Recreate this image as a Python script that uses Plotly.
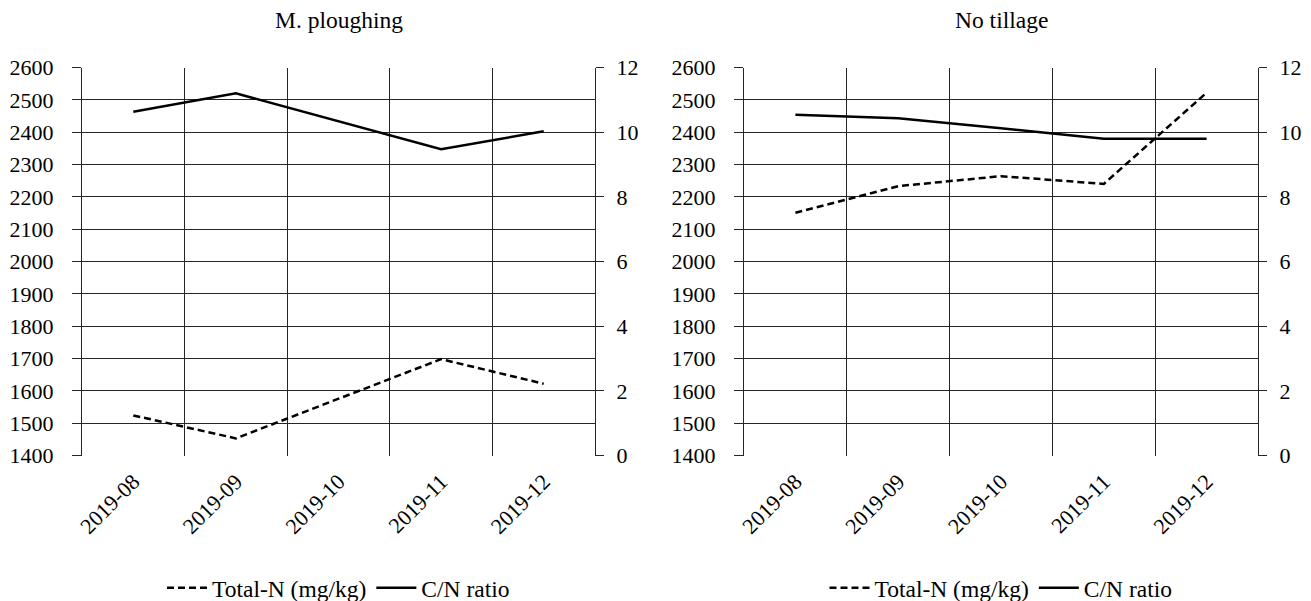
import plotly.graph_objects as go

months = ["2019-08", "2019-09", "2019-10", "2019-11", "2019-12"]

plough_total_n = [1524, 1453, None, 1698, 1622]
plough_cn = [10.63, 11.2, None, 9.47, 10.03]

notill_total_n = [2151, 2233, 2264, 2240, 2522]
notill_cn = [10.54, 10.43, 10.12, 9.8, 9.8]

panel_titles = ["M. ploughing", "No tillage"]

# the page body has an 8px margin: place everything 8px up/left inside the figure
OFF = 8
W, H = 1311, 601
FONT = "Liberation Serif, Times New Roman, serif"
FS_TICK = 22
FS_TEXT = 23.5
GRID = "#262626"

def px_x(p):
    return (p - OFF) / W

def px_y(p):
    return 1 - (p - OFF) / H

fig = go.Figure()

panels = [
    (plough_total_n, plough_cn, "x", "y", "y2", "legend"),
    (notill_total_n, notill_cn, "x2", "y3", "y4", "legend2"),
]
for tn, cn, xa, ya, ya2, lg in panels:
    fig.add_trace(go.Scatter(
        x=months, y=tn, name="Total-N (mg/kg)", mode="lines",
        line=dict(color="black", width=2.5, dash="7px,4px"),
        connectgaps=True, xaxis=xa, yaxis=ya, legend=lg))
    fig.add_trace(go.Scatter(
        x=months, y=cn, name="C/N ratio", mode="lines",
        line=dict(color="black", width=2.5),
        connectgaps=True, xaxis=xa, yaxis=ya2, legend=lg))

doms = [(px_x(82), px_x(595)), (px_x(744), px_x(1258))]
ydom = [px_y(455.5), px_y(67.5)]

common_x = dict(
    type="category", range=[-0.5, 4.5], tickson="boundaries",
    showgrid=True, gridcolor=GRID, gridwidth=1, automargin=False,
    ticks="", tickangle=-45, showline=False, zeroline=False,
    tickfont=dict(family=FONT, size=FS_TICK, color="black"), ticklabelstandoff=8,
)
common_yl = dict(
    range=[1400, 2600], dtick=100, tick0=1400, domain=ydom,
    showgrid=True, gridcolor=GRID, gridwidth=1, automargin=False,
    ticks="outside", ticklen=9, tickcolor=GRID, zeroline=False,
    showline=True, linecolor=GRID, linewidth=1,
    tickfont=dict(family=FONT, size=FS_TICK, color="black"), ticklabelstandoff=14,
)
common_yr = dict(
    range=[0, 12], dtick=2, tick0=0, side="right", showgrid=False, automargin=False,
    ticks="outside", ticklen=8, tickcolor=GRID, zeroline=False,
    showline=True, linecolor=GRID, linewidth=1,
    tickfont=dict(family=FONT, size=FS_TICK, color="black"), ticklabelstandoff=8,
)

legend_common = dict(orientation="h", xanchor="center", y=px_y(588), yanchor="middle",
                     font=dict(family=FONT, size=FS_TEXT, color="black"),
                     bgcolor="rgba(0,0,0,0)", itemwidth=40)

fig.update_layout(
    width=W, height=H,
    margin=dict(l=0, r=0, t=0, b=0, autoexpand=False),
    paper_bgcolor="white", plot_bgcolor="white",
    font=dict(family=FONT, size=FS_TEXT, color="black"),
    xaxis=dict(domain=list(doms[0]), anchor="y", **common_x),
    yaxis=dict(anchor="x", **common_yl),
    yaxis2=dict(anchor="x", overlaying="y", domain=ydom, **common_yr),
    xaxis2=dict(domain=list(doms[1]), anchor="y3", **common_x),
    yaxis3=dict(anchor="x2", **common_yl),
    yaxis4=dict(anchor="x2", overlaying="y3", domain=ydom, **common_yr),
    legend=dict(x=sum(doms[0]) / 2, **legend_common),
    legend2=dict(x=sum(doms[1]) / 2, **legend_common),
    showlegend=True,
)

for i, t in enumerate(panel_titles):
    fig.add_annotation(text=t, x=sum(doms[i]) / 2, y=px_y(20), xref="paper", yref="paper",
                       xanchor="center", yanchor="middle", showarrow=False,
                       font=dict(family=FONT, size=FS_TEXT, color="black"))

fig.write_html("out.html")
